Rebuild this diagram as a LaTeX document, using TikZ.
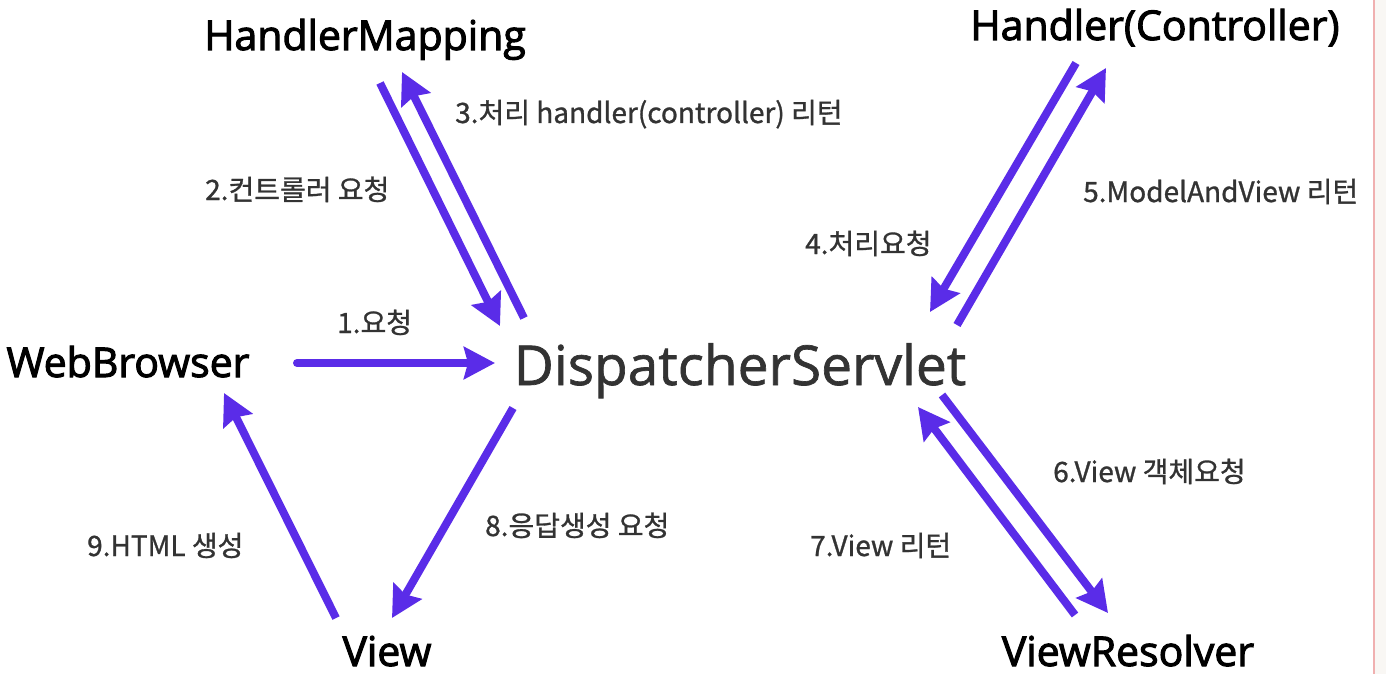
\documentclass[tikz,border=0pt]{standalone}
\usepackage{fontspec}
\setmainfont{Noto Sans CJK KR}
\newfontfamily\namefont[FakeBold=2.5]{Open Sans}
\newfontfamily\mainnamefont[FakeBold=1.2]{Open Sans}
\newfontfamily\labelfont[FakeBold=1.0]{Noto Sans CJK KR}
\usetikzlibrary{arrows.meta}
\definecolor{flow}{RGB}{90,44,232}
\definecolor{txt}{RGB}{51,51,51}
\definecolor{edge}{RGB}{240,176,176}
\definecolor{margin}{RGB}{249,247,244}
\tikzset{
  flowarrow/.style={draw=flow, line width=8pt, -{Stealth[length=31pt,width=32pt,inset=4pt]}},
  compname/.style={font=\namefont\fontsize{41}{46}\selectfont, text=black, inner sep=0pt, anchor=base},
  mainname/.style={font=\mainnamefont\fontsize{55}{60}\selectfont, text=txt, inner sep=0pt, anchor=base},
  steplabel/.style={font=\labelfont\fontsize{28}{32}\selectfont, text=txt, inner sep=0pt, anchor=base west},
}
\begin{document}
\begin{tikzpicture}[x=1pt,y=-1pt]
\useasboundingbox (0,0) rectangle (1386,674);
\fill[white] (0,0) rectangle (1374,674);
\fill[margin] (1374,0) rectangle (1386,674);
\draw[edge, line width=1.2pt] (1374,0) -- (1374,674);

% components
\node[compname] (hm) at (365,50) {HandlerMapping};
\node[compname] (hc) at (1155,40) {Handler(Controller)};
\node[compname] (wb) at (128,377) {WebBrowser};
\node[mainname] (ds) at (740,385) {DispatcherServlet};
\node[compname] (vw) at (387,666) {View};
\node[compname] (vr) at (1128,666) {ViewResolver};

% arrow end points
\coordinate (a1s) at (297,363);  \coordinate (a1e) at (495,363);
\coordinate (a2s) at (380,83);   \coordinate (a2e) at (500,326);
\coordinate (a3s) at (524,318);  \coordinate (a3e) at (402,72);
\coordinate (a4s) at (1076,63);  \coordinate (a4e) at (930,312);
\coordinate (a5s) at (957,325);  \coordinate (a5e) at (1106,68);
\coordinate (a6s) at (942,395);  \coordinate (a6e) at (1108,613);
\coordinate (a7s) at (1075,615); \coordinate (a7e) at (918,407);
\coordinate (a8s) at (513,408);  \coordinate (a8e) at (392,618);
\coordinate (a9s) at (336,618);  \coordinate (a9e) at (224,393);

\draw[flowarrow, line cap=round] (a1s) -- (a1e);
\draw[flowarrow] (a2s) -- (a2e);
\draw[flowarrow] (a3s) -- (a3e);
\draw[flowarrow] (a4s) -- (a4e);
\draw[flowarrow] (a5s) -- (a5e);
\draw[flowarrow] (a6s) -- (a6e);
\draw[flowarrow] (a7s) -- (a7e);
\draw[flowarrow] (a8s) -- (a8e);
\draw[flowarrow] (a9s) -- (a9e);

% labels
\node[steplabel] (l1) at (337,333) {1.요청};
\node[steplabel] (l2) at (205,200) {2.컨트롤러 요청};
\node[steplabel] (l3) at (455,123) {3.처리 handler(controller) 리턴};
\node[steplabel] (l4) at (805,254) {4.처리요청};
\node[steplabel] (l5) at (1083,202) {5.ModelAndView 리턴};
\node[steplabel] (l6) at (1053,482) {6.View 객체요청};
\node[steplabel] (l7) at (810,556) {7.View 리턴};
\node[steplabel] (l8) at (485,536) {8.응답생성 요청};
\node[steplabel] (l9) at (87,556) {9.HTML 생성};
\end{tikzpicture}
\end{document}
